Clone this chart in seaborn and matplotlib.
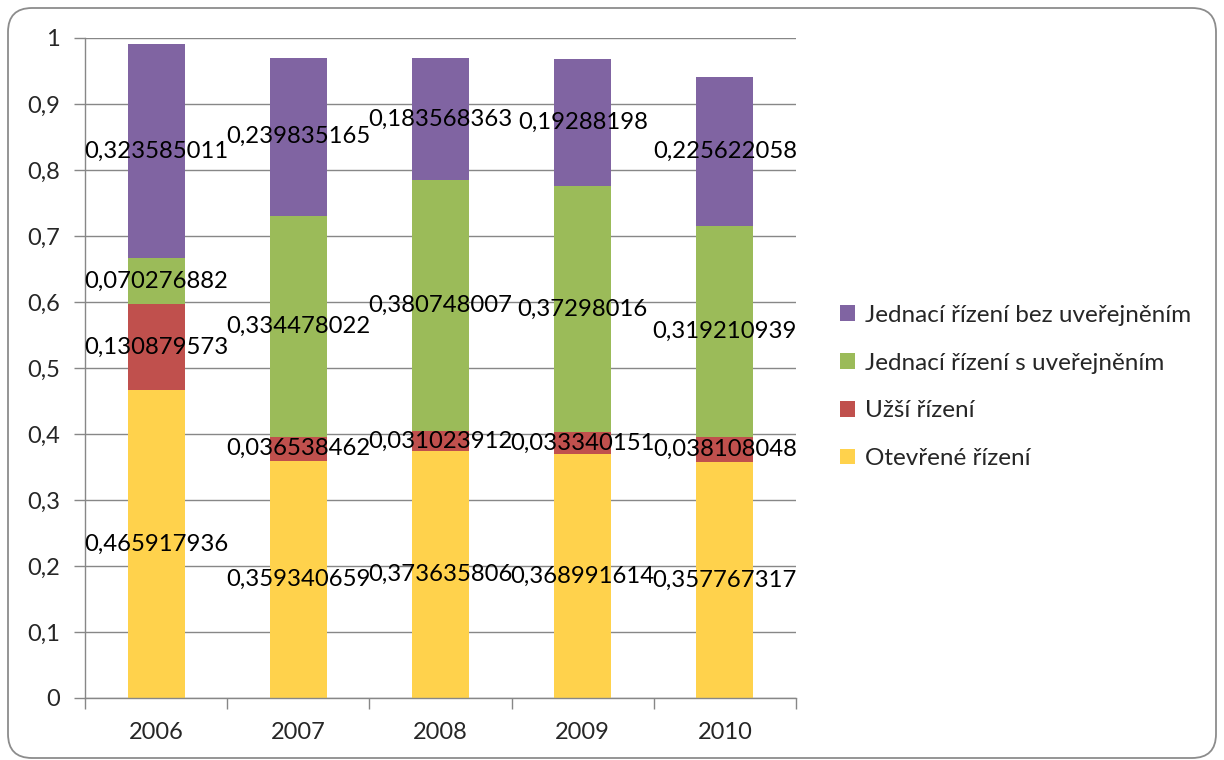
import matplotlib
matplotlib.use("Agg")
import matplotlib.pyplot as plt
import matplotlib.transforms as mtransforms
from matplotlib.patches import FancyBboxPatch
import numpy as np
import pandas as pd
import seaborn as sns

years = ["2006", "2007", "2008", "2009", "2010"]
otevrene = [0.465917936, 0.359340659, 0.373635806, 0.368991614, 0.357767317]
uzsi = [0.130879573, 0.036538462, 0.031023912, 0.033340151, 0.038108048]
s_uverejnenim = [0.070276882, 0.334478022, 0.380748007, 0.37298016, 0.319210939]
bez_uverejneni = [0.323585011, 0.239835165, 0.183568363, 0.19288198, 0.225622058]

series_names = ["Otevřené řízení", "Užší řízení",
                "Jednací řízení s uveřejněním", "Jednací řízení bez uveřejněním"]
series_values = [otevrene, uzsi, s_uverejnenim, bez_uverejneni]
colors = ["#FFD24C", "#C0504D", "#9BBB59", "#8064A2"]

sns.set_style("white")
plt.rcParams["font.family"] = ["Lato", "DejaVu Sans"]

W, H = 1224, 760
fig = plt.figure(figsize=(W / 100, H / 100), dpi=100)
ax = fig.add_axes([85 / W, 1 - 698 / H, (796 - 85) / W, (698 - 38) / H])

vals = np.array(series_values)
cum = np.cumsum(vals, axis=0)

# stacked bars: draw cumulative totals from the top layer down
for i in range(len(series_names) - 1, -1, -1):
    df = pd.DataFrame({"rok": years, "hodnota": cum[i]})
    sns.barplot(data=df, x="rok", y="hodnota", color=colors[i], width=0.4,
                saturation=1, linewidth=0, label=series_names[i], ax=ax,
                zorder=2)

# value labels centred in each segment
for i in range(len(series_names)):
    for j in range(len(years)):
        base = cum[i][j] - vals[i][j]
        ax.text(j, base + vals[i][j] / 2, f"{vals[i][j]}".replace(".", ","),
                ha="center", va="center", fontsize=17.2, color="black", zorder=5)

ax.set_xlim(-0.5, len(years) - 0.5)
ax.set_ylim(0, 1)
yt = np.round(np.arange(0, 1.01, 0.1), 1)
ax.set_yticks(yt)
ax.set_yticklabels([("%g" % t).replace(".", ",") for t in yt], fontsize=17)
ax.yaxis.grid(True, color="#878787", linewidth=1)
ax.set_axisbelow(True)
ax.tick_params(axis="y", length=8, width=1, color="#878787", pad=10,
               left=True)

# category boundary ticks on x, labels centred between them
ax.set_xticks(np.arange(-0.5, len(years), 1.0))
ax.set_xticklabels([])
ax.set_xticks(range(len(years)), minor=True)
ax.set_xticklabels(years, minor=True, fontsize=17)
ax.tick_params(axis="x", which="major", length=8, width=1, color="#878787",
               bottom=True, direction="out")
ax.tick_params(axis="x", which="minor", length=0, pad=17)

ax.set_xlabel("")
ax.set_ylabel("")
for s in ["top", "right"]:
    ax.spines[s].set_visible(False)
for s in ["left", "bottom"]:
    ax.spines[s].set_color("#878787")
    ax.spines[s].set_linewidth(1)

handles, labels = ax.get_legend_handles_labels()
if ax.get_legend() is not None:
    ax.get_legend().remove()
fig.legend(handles, labels, loc="center left",
           bbox_to_anchor=(818 / W, 1 - 387 / H), frameon=False,
           fontsize=17.5, handlelength=0.62, handleheight=0.62,
           handletextpad=0.4, labelspacing=1.1)

# rounded outer frame
frame = FancyBboxPatch((8, 2), W - 16, H - 10,
                       boxstyle="round,pad=0,rounding_size=24",
                       transform=mtransforms.IdentityTransform(),
                       facecolor="none", edgecolor="#8c8c8c", linewidth=1.3)
fig.add_artist(frame)

fig.savefig("out.png", dpi=100)
